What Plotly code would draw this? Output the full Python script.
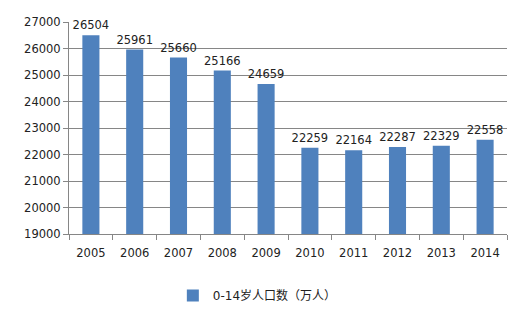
import plotly.graph_objects as go

years = ["2005", "2006", "2007", "2008", "2009", "2010", "2011", "2012", "2013", "2014"]
values = [26504, 25961, 25660, 25166, 24659, 22259, 22164, 22287, 22329, 22558]
series_name = "0-14岁人口数（万人）"
y_ticks = [19000, 20000, 21000, 22000, 23000, 24000, 25000, 26000, 27000]

num_font = "DejaVu Sans, Verdana, sans-serif"
cjk_font = "DejaVu Sans, Noto Sans CJK SC, sans-serif"

fig = go.Figure()
fig.add_trace(go.Bar(
    x=years, y=values, name=series_name,
    marker=dict(color="#4F81BD", line=dict(width=0)),
    text=[str(v) for v in values], textposition="outside",
    constraintext="none",
    textfont=dict(size=11.5, color="#222222", family=num_font),
    cliponaxis=False,
))

fig.update_layout(
    width=525, height=315,
    margin=dict(l=69, r=18, t=22, b=81, autoexpand=False),
    paper_bgcolor="white", plot_bgcolor="white",
    bargap=0.61,
    showlegend=True,
    legend=dict(orientation="h", x=0.43, xanchor="center", y=-0.29, yanchor="middle",
                font=dict(size=12, color="#222222", family=cjk_font),
                itemwidth=30),
    font=dict(family=num_font, size=11.5, color="#222222"),
)
fig.update_xaxes(
    showline=True, linecolor="#868686", linewidth=1,
    ticks="outside", tickson="boundaries", ticklen=5, tickcolor="#868686",
    tickfont=dict(size=11.5, color="#222222", family=num_font),
    ticklabelstandoff=8, automargin=False,
    showgrid=False,
)
fig.update_yaxes(
    range=[19000, 27000], tickvals=y_ticks, tickformat="d",
    showline=True, linecolor="#868686", linewidth=1,
    ticks="outside", ticklen=5, tickcolor="#868686",
    showgrid=True, gridcolor="#868686", gridwidth=1,
    tickfont=dict(size=11.5, color="#222222", family=num_font),
    zeroline=False, automargin=False,
)

fig.write_html("out.html")
